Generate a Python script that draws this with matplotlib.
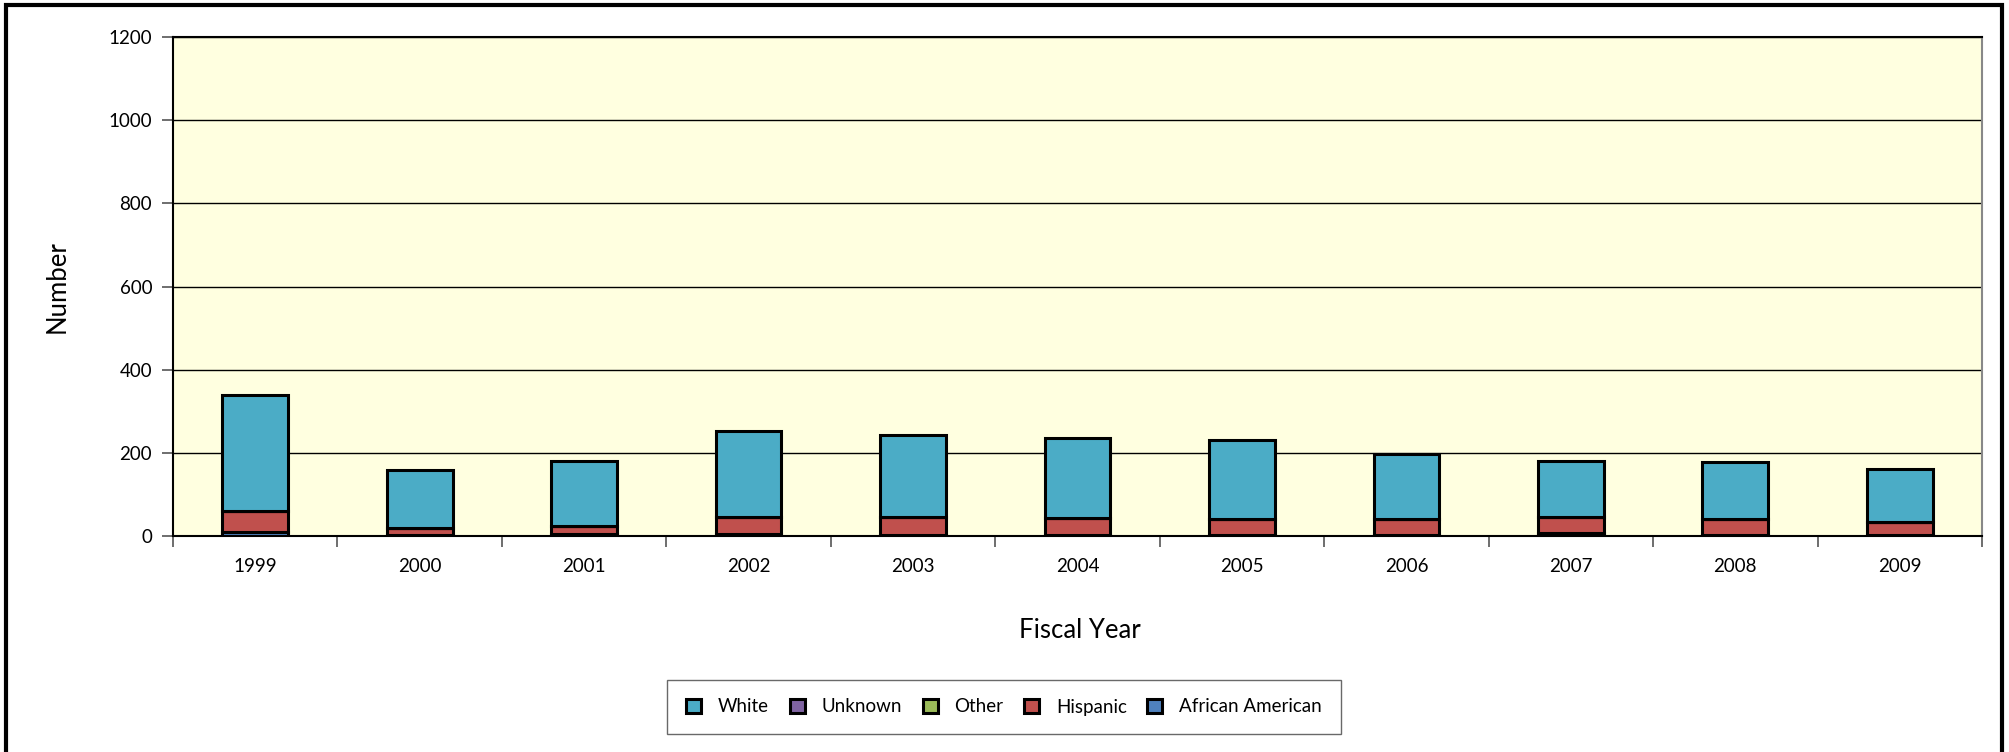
import matplotlib
matplotlib.use("Agg")
import matplotlib.pyplot as plt
from matplotlib.patches import Rectangle
import numpy as np

years = ["1999", "2000", "2001", "2002", "2003", "2004", "2005", "2006", "2007", "2008", "2009"]
african_american = [10, 3, 6, 4, 3, 3, 3, 3, 7, 3, 3]
hispanic = [50, 17, 18, 42, 43, 41, 39, 38, 38, 37, 31]
other = [0, 0, 0, 0, 0, 0, 0, 0, 0, 0, 0]
unknown = [0, 0, 0, 0, 0, 0, 0, 0, 0, 0, 0]
white = [279, 138, 156, 206, 196, 192, 190, 155, 135, 138, 126]

series = [
    ("African American", african_american, "#4F81BD"),
    ("Hispanic", hispanic, "#C0504D"),
    ("Other", other, "#9BBB59"),
    ("Unknown", unknown, "#8064A2"),
    ("White", white, "#4BACC6"),
]

plt.rcParams['font.family'] = ['Lato', 'DejaVu Sans']

fig = plt.figure(figsize=(20.09, 7.52), dpi=100)
ax = fig.add_axes([173/2009, 1-536/752, (1982-173)/2009, (536-37)/752])
ax.set_facecolor("#FFFFE0")

x = np.arange(len(years))
bottom = np.zeros(len(years))
handles = {}
for name, vals, col in series:
    b = ax.bar(x, vals, width=0.4, bottom=bottom, color=col, edgecolor="black",
               linewidth=2.2, label=name, zorder=3)
    handles[name] = b
    bottom = bottom + np.array(vals)

ax.set_xlim(-0.5, len(years) - 0.5)
ax.set_ylim(0, 1200)
ax.set_yticks(range(0, 1201, 200))
ax.set_yticklabels([str(v) for v in range(0, 1201, 200)], fontsize=13.5)
ax.yaxis.grid(True, color="black", linewidth=1.0, zorder=0)
ax.set_axisbelow(True)

ax.set_xticks(x)
ax.set_xticklabels(years, fontsize=13.5)
ax.set_xticks(np.arange(-0.5, len(years)), minor=True)
ax.tick_params(axis="x", which="major", length=0, pad=16)
ax.tick_params(axis="x", which="minor", length=8, width=1.2, color="#555555", direction="out")
ax.tick_params(axis="y", length=8, width=1.2, color="#555555", direction="out", pad=7)

for s in ["left", "bottom", "top"]:
    ax.spines[s].set_color("black")
    ax.spines[s].set_linewidth(1.5)
ax.spines["right"].set_color("#888888")
ax.spines["right"].set_linewidth(1.5)

fig.text(57/2009, 1-287/752, "Number", rotation=90, fontsize=18.5, ha="center", va="center")
fig.text(1080/2009, 1-630/752, "Fiscal Year", fontsize=18.5, ha="center", va="center")

order = ["White", "Unknown", "Other", "Hispanic", "African American"]
leg = fig.legend([handles[n] for n in order], order, loc="center",
                 bbox_to_anchor=(1004/2009, 1-707/752), ncol=5, fontsize=13.5,
                 frameon=True, fancybox=False, edgecolor="#444444",
                 handlelength=0.8, handleheight=0.8, handletextpad=0.9,
                 columnspacing=1.1, borderpad=1.0)
leg.get_frame().set_linewidth(1.0)

frame = Rectangle((5.5/2009, -0.05), (2002-5.5)/2009, 1.05 - 5.5/752,
                  transform=fig.transFigure, fill=False, edgecolor="black",
                  linewidth=3, clip_on=False)
fig.add_artist(frame)

fig.savefig("out.png", dpi=100)
